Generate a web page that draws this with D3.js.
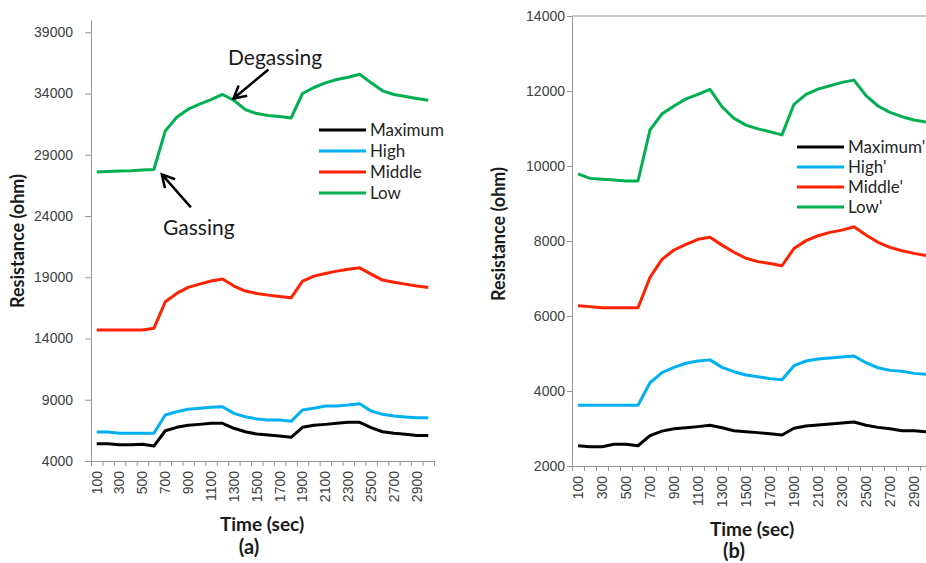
<!DOCTYPE html>
<html>
<head>
<meta charset="utf-8">
<script src="https://cdn.jsdelivr.net/npm/d3@7.9.0/dist/d3.min.js"></script>
<style>
  body { margin: 0; background: #fff; }
  svg { display: block; font-family: Lato, "Open Sans", sans-serif; }
  .tick text { fill: #404040; }
</style>
</head>
<body>
<svg id="chart" width="926" height="563"></svg>
<script>
const timeSec = [100, 200, 300, 400, 500, 600, 700, 800, 900, 1000, 1100, 1200, 1300, 1400, 1500,
  1600, 1700, 1800, 1900, 2000, 2100, 2200, 2300, 2400, 2500, 2600, 2700, 2800, 2900, 3000];

// panel (a)
const maxA = [5410, 5410, 5330, 5330, 5360, 5220, 6470, 6750, 6910, 6990, 7080, 7080, 6670, 6390, 6200,
  6120, 6040, 5930, 6750, 6910, 6990, 7080, 7160, 7160, 6720, 6390, 6260, 6180, 6090, 6090];
const highA = [6370, 6370, 6260, 6260, 6260, 6260, 7750, 8020, 8220, 8300, 8380, 8430, 7890, 7610, 7430,
  7340, 7340, 7240, 8160, 8300, 8490, 8490, 8570, 8680, 8080, 7810, 7670, 7590, 7530, 7530];
const midA = [14690, 14690, 14690, 14690, 14690, 14830, 17000, 17680, 18170, 18440, 18690, 18850, 18280, 17870, 17680,
  17540, 17430, 17320, 18690, 19090, 19310, 19500, 19660, 19770, 19260, 18770, 18600, 18440, 18280, 18170];
const lowA = [27600, 27630, 27680, 27700, 27750, 27800, 30950, 32060, 32720, 33130, 33500, 33920, 33450, 32690, 32360,
  32200, 32120, 32000, 34000, 34490, 34870, 35140, 35330, 35570, 34870, 34220, 33920, 33750, 33590, 33450];

// panel (b)
const maxB = [2540, 2515, 2515, 2580, 2580, 2540, 2810, 2930, 2995, 3020, 3050, 3085, 3020, 2940, 2915,
  2890, 2860, 2825, 3005, 3065, 3095, 3120, 3145, 3175, 3085, 3030, 2995, 2940, 2940, 2915];
const highB = [3620, 3620, 3620, 3620, 3620, 3620, 4220, 4490, 4630, 4740, 4800, 4830, 4630, 4515, 4425,
  4380, 4330, 4300, 4675, 4800, 4855, 4880, 4905, 4935, 4755, 4620, 4550, 4525, 4470, 4445];
const midB = [6275, 6250, 6220, 6220, 6220, 6220, 7030, 7510, 7760, 7910, 8045, 8100, 7890, 7700, 7540,
  7450, 7400, 7340, 7800, 8010, 8140, 8230, 8290, 8380, 8160, 7965, 7830, 7740, 7670, 7610];
const lowB = [9790, 9670, 9645, 9627, 9600, 9600, 10960, 11390, 11600, 11790, 11910, 12045, 11580, 11270, 11090,
  10990, 10915, 10830, 11645, 11910, 12050, 12140, 12230, 12290, 11875, 11600, 11430, 11315, 11225, 11175];

const namesA = ['Maximum', 'High', 'Middle', 'Low'];
const namesB = ["Maximum'", "High'", "Middle'", "Low'"];
const yTicksA = [4000, 9000, 14000, 19000, 24000, 29000, 34000, 39000];
const yTicksB = [2000, 4000, 6000, 8000, 10000, 12000, 14000];
const colors = ['#000000', '#00B0F0', '#FF2200', '#00B050'];

const svg = d3.select('#chart');

function drawPanel(cfg) {
    const x = d3.scaleBand().domain(timeSec).range([cfg.left, cfg.right]).padding(0);
    const y = d3.scaleLinear().domain(cfg.yDomain).range([cfg.bottom, cfg.top]);
    const g = svg.append('g');

    if (cfg.topBorder) {
        g.append('line')
            .attr('x1', cfg.left).attr('x2', cfg.right)
            .attr('y1', cfg.top).attr('y2', cfg.top)
            .attr('stroke', '#969696').attr('stroke-width', 1);
    }

    // y axis
    const yAxis = g.append('g')
        .attr('transform', `translate(${cfg.left},0)`)
        .call(d3.axisLeft(y).tickValues(cfg.yTicks).tickFormat(d3.format('d'))
            .tickSize(cfg.yTickSize).tickPadding(cfg.yPad).tickSizeOuter(0));
    yAxis.select('.domain').attr('stroke', '#969696');
    yAxis.selectAll('.tick line').attr('stroke', '#969696');
    yAxis.selectAll('.tick text').style('font-size', '14px');

    // x axis ticks at band edges
    const xEdge = d3.scaleLinear().domain([0, timeSec.length]).range([cfg.left, cfg.right]);
    const xTickAxis = g.append('g')
        .attr('transform', `translate(0,${cfg.bottom})`)
        .call(d3.axisBottom(xEdge).tickValues(d3.range(timeSec.length + 1)).tickFormat('').tickSize(5).tickSizeOuter(0));
    xTickAxis.select('.domain').attr('stroke', '#969696');
    xTickAxis.selectAll('.tick line').attr('stroke', '#969696');

    // x labels, every other one
    const xLab = g.append('g')
        .attr('transform', `translate(0,${cfg.bottom})`)
        .call(d3.axisBottom(x).tickValues(timeSec.filter((d, i) => i % 2 === 0)).tickSize(0).tickPadding(0));
    xLab.select('.domain').remove();
    xLab.selectAll('.tick text')
        .style('font-size', '14px')
        .attr('text-anchor', 'end')
        .attr('transform', 'rotate(-90)')
        .attr('x', -cfg.xLabGap)
        .attr('y', 0)
        .attr('dy', '0.35em');

    // lines
    const line = d3.line()
        .x((d, i) => x(timeSec[i]) + x.bandwidth() / 2)
        .y(d => y(d));
    cfg.series.forEach((s, k) => {
        g.append('path')
            .attr('d', line(s))
            .attr('fill', 'none')
            .attr('stroke', colors[k])
            .attr('stroke-width', 3)
            .attr('stroke-linejoin', 'round');
    });

    // legend
    cfg.names.forEach((n, k) => {
        const ly = cfg.legendY + k * cfg.legendStep;
        g.append('line')
            .attr('x1', cfg.legendX).attr('x2', cfg.legendX + 47)
            .attr('y1', ly).attr('y2', ly)
            .attr('stroke', colors[k]).attr('stroke-width', 3);
        g.append('text')
            .attr('x', cfg.legendX + 51).attr('y', ly + 6)
            .attr('fill', '#262626')
            .style('font-size', '17px')
            .text(n);
    });

    // titles
    g.append('text')
        .attr('transform', `translate(${cfg.yTitleX},${cfg.yTitleY}) rotate(-90)`)
        .attr('text-anchor', 'middle')
        .attr('fill', '#1a1a1a')
        .style('font-size', '18px').style('font-weight', 'bold')
        .text('Resistance (ohm)');
    g.append('text')
        .attr('x', cfg.xTitleX).attr('y', cfg.xTitleY)
        .attr('text-anchor', 'middle')
        .attr('fill', '#1a1a1a')
        .style('font-size', '19px').style('font-weight', 'bold')
        .text('Time (sec)');
    g.append('text')
        .attr('x', cfg.capX).attr('y', cfg.capY)
        .attr('text-anchor', 'middle')
        .attr('fill', '#1a1a1a')
        .style('font-size', '20px').style('font-weight', 'bold')
        .text(cfg.caption);

    return { x, y, g };
}

const pa = drawPanel({
    left: 91, right: 434, top: 20, bottom: 461,
    yDomain: [4000, 40000], yTicks: yTicksA, yTickSize: 6, yPad: 12,
    xLabGap: 10, topBorder: false,
    series: [maxA, highA, midA, lowA], names: namesA,
    legendX: 319, legendY: 130, legendStep: 21,
    yTitleX: 24, yTitleY: 241, xTitleX: 262, xTitleY: 531,
    capX: 249, capY: 554, caption: '(a)'
});

drawPanel({
    left: 572, right: 932, top: 16, bottom: 466,
    yDomain: [2000, 14000], yTicks: yTicksB, yTickSize: 5, yPad: 2,
    xLabGap: 10, topBorder: true,
    series: [maxB, highB, midB, lowB], names: namesB,
    legendX: 797, legendY: 147, legendStep: 20,
    yTitleX: 505, yTitleY: 234, xTitleX: 752, xTitleY: 536,
    capX: 734, capY: 558, caption: '(b)'
});

// annotations on panel (a)
function arrow(g, x1, y1, x2, y2) {
    const ang = Math.atan2(y1 - y2, x1 - x2);
    const len = 14, spread = 0.5;
    g.append('path')
        .attr('d', `M${x1},${y1}L${x2},${y2}` +
            `M${x2 + len * Math.cos(ang - spread)},${y2 + len * Math.sin(ang - spread)}L${x2},${y2}` +
            `L${x2 + len * Math.cos(ang + spread)},${y2 + len * Math.sin(ang + spread)}`)
        .attr('fill', 'none').attr('stroke', '#000').attr('stroke-width', 2.5);
}
const bw = pa.x.bandwidth() / 2;
const peakX = pa.x(1200) + bw, peakY = pa.y(lowA[11]);
const riseX = pa.x(600) + bw, riseY = pa.y(lowA[5]);
arrow(pa.g, peakX + 46, peakY - 25, peakX + 11, peakY + 4);
arrow(pa.g, riseX + 37, riseY + 38, riseX + 8, riseY + 5);
pa.g.append('text').attr('x', 228).attr('y', 65)
    .attr('fill', '#1a1a1a').style('font-size', '21px').text('Degassing');
pa.g.append('text').attr('x', 163).attr('y', 235)
    .attr('fill', '#1a1a1a').style('font-size', '21px').text('Gassing');
</script>
</body>
</html>
